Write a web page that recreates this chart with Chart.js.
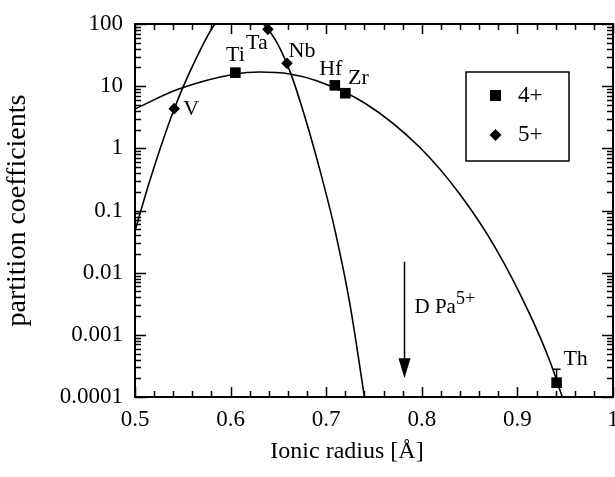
<!DOCTYPE html>
<html lang="en">
<head>
<meta charset="UTF-8">
<title>Partition coefficients vs ionic radius</title>
<script src="https://cdn.jsdelivr.net/npm/chart.js"></script>
<style>
  html, body { margin: 0; padding: 0; background: #fff; overflow: hidden; }
  #wrap { width: 615px; height: 477px; }
</style>
</head>
<body>
<div id="wrap"><canvas id="dChart" width="615" height="477"></canvas></div>
<script>
// lattice strain curves (radius in Å, D)
const curve4X = [0.500, 0.545, 0.605, 0.630, 0.662, 0.690, 0.741, 0.798, 0.840, 0.877, 0.913, 0.934, 0.947];
const curve4Y = [4.3, 8.9, 15.7, 16.9, 15.7, 12.2, 5.26, 1.03, 0.181, 0.0251, 0.00214, 0.000377, 0.0001];
const curve5X = [0.500, 0.5157, 0.541, 0.564, 0.5837, 0.609, 0.6342, 0.6464, 0.6621, 0.6778, 0.6935, 0.7092, 0.7249, 0.7400];
const curve5Y = [0.047, 0.31, 4.3, 28, 100, 200, 100, 57, 17.3, 3.17, 0.442, 0.048, 0.00307, 0.0001];

// measured ions
const ions4 = ['Ti', 'Hf', 'Zr', 'Th'];
const ions4X = [0.605, 0.709, 0.720, 0.941];
const ions4Y = [16.5, 10.3, 7.7, 0.00017];
const ions5 = ['V', 'Ta', 'Nb'];
const ions5X = [0.541, 0.639, 0.659];
const ions5Y = [4.35, 82, 23.3];

// Th upper error
const thErrHigh = 0.00028;

// Pa5+ arrow
const paX = 0.781;
const paFrom = 0.015;
const paTo = 0.0002;

const xTicks = [0.5, 0.6, 0.7, 0.8, 0.9, 1];
const yTicks = [0.0001, 0.001, 0.01, 0.1, 1, 10, 100];
const yTickLabels = ['0.0001', '0.001', '0.01', '0.1', '1', '10', '100'];
const legendLabels = ['4+', '5+'];
const xTitle = 'Ionic radius [Å]';

const FONT = '"Liberation Serif", "Times New Roman", serif';

const toXY = (xs, ys) => xs.map((x, i) => ({ x: x, y: ys[i] }));

// where each ion label sits relative to its marker (px)
const labelOffsets = { Ti: [0, -17], Ta: [-11, 14], Nb: [15, -12], Hf: [-4, -16], Zr: [13, -15], V: [17, 1], Th: [19, -23] };

const decorations = {
    id: 'decorations',
    afterDatasetsDraw(chart) {
        const { ctx, chartArea: a, scales: { x, y } } = chart;
        ctx.save();
        ctx.strokeStyle = '#000';
        ctx.fillStyle = '#000';

        // frame
        ctx.lineWidth = 2;
        ctx.strokeRect(a.left, a.top, a.right - a.left, a.bottom - a.top);

        // ticks pointing inward on all four sides
        ctx.lineWidth = 1.5;
        ctx.beginPath();
        for (let v = 0.5; v <= 1.0001; v += 0.02) {
            const px = Math.round(x.getPixelForValue(v)) + 0.5;
            const major = Math.abs(v * 10 - Math.round(v * 10)) < 1e-6;
            const len = major ? 10 : 6;
            ctx.moveTo(px, a.bottom); ctx.lineTo(px, a.bottom - len);
            ctx.moveTo(px, a.top); ctx.lineTo(px, a.top + len);
        }
        for (let e = -4; e <= 2; e++) {
            for (let m = 1; m <= 9; m++) {
                const v = m * Math.pow(10, e);
                if (v > 100.0001) break;
                const py = Math.round(y.getPixelForValue(v)) + 0.5;
                const len = m === 1 ? 11 : 6;
                ctx.moveTo(a.left, py); ctx.lineTo(a.left + len, py);
                ctx.moveTo(a.right, py); ctx.lineTo(a.right - len, py);
            }
        }
        ctx.stroke();

        // Th error bar
        const thX = x.getPixelForValue(ions4X[3]);
        const thTop = y.getPixelForValue(thErrHigh);
        const thMid = y.getPixelForValue(ions4Y[3]);
        ctx.lineWidth = 1.5;
        ctx.beginPath();
        ctx.moveTo(thX, thMid); ctx.lineTo(thX, thTop);
        ctx.moveTo(thX - 4, thTop); ctx.lineTo(thX + 4, thTop);
        ctx.stroke();

        // ion labels
        ctx.font = '22px ' + FONT;
        ctx.textAlign = 'center';
        ctx.textBaseline = 'middle';
        const names = ions4.concat(ions5);
        const xs = ions4X.concat(ions5X);
        const ys = ions4Y.concat(ions5Y);
        names.forEach((n, i) => {
            const off = labelOffsets[n];
            ctx.fillText(n, x.getPixelForValue(xs[i]) + off[0], y.getPixelForValue(ys[i]) + off[1]);
        });

        // Pa arrow
        const ax = Math.round(x.getPixelForValue(paX)) + 0.5;
        const aTop = y.getPixelForValue(paFrom);
        const aTip = y.getPixelForValue(paTo);
        ctx.lineWidth = 1.5;
        ctx.beginPath();
        ctx.moveTo(ax, aTop); ctx.lineTo(ax, aTip - 18);
        ctx.stroke();
        ctx.beginPath();
        ctx.moveTo(ax - 6, aTip - 20); ctx.lineTo(ax + 6, aTip - 20); ctx.lineTo(ax, aTip);
        ctx.closePath();
        ctx.fill();
        ctx.textAlign = 'left';
        ctx.font = '21px ' + FONT;
        const ly = aTop + 46;
        ctx.fillText('D Pa', ax + 10, ly);
        const w = ctx.measureText('D Pa').width;
        ctx.font = '18px ' + FONT;
        ctx.fillText('5+', ax + 10 + w, ly - 8);

        // legend box
        const lx = a.right - 147, lt = a.top + 48;
        ctx.lineWidth = 1.5;
        ctx.strokeRect(lx, lt, 103, 89);
        ctx.fillRect(lx + 24, lt + 18, 11, 11);
        ctx.beginPath();
        ctx.moveTo(lx + 29.5, lt + 57); ctx.lineTo(lx + 35.5, lt + 63);
        ctx.lineTo(lx + 29.5, lt + 69); ctx.lineTo(lx + 23.5, lt + 63);
        ctx.closePath();
        ctx.fill();
        ctx.font = '23px ' + FONT;
        ctx.textAlign = 'left';
        ctx.fillText(legendLabels[0], lx + 52, lt + 24);
        ctx.fillText(legendLabels[1], lx + 52, lt + 63);

        // x axis title, sits a little left of the plot centre in the original
        ctx.font = '24px ' + FONT;
        ctx.textAlign = 'center';
        ctx.fillText(xTitle, a.left + 212, a.bottom + 55);
        ctx.restore();
    }
};

const ctx = document.getElementById('dChart').getContext('2d');
const dChart = new Chart(ctx, {
    type: 'scatter',
    data: {
        datasets: [
            {
                label: 'curve 4+',
                data: toXY(curve4X, curve4Y),
                showLine: true,
                borderColor: '#000',
                borderWidth: 1.6,
                pointRadius: 0,
                cubicInterpolationMode: 'monotone'
            },
            {
                label: 'curve 5+',
                data: toXY(curve5X, curve5Y),
                showLine: true,
                borderColor: '#000',
                borderWidth: 1.6,
                pointRadius: 0,
                cubicInterpolationMode: 'monotone'
            },
            {
                label: legendLabels[0],
                data: toXY(ions4X, ions4Y),
                pointStyle: 'rect',
                pointRadius: 7.5,
                backgroundColor: '#000',
                borderColor: '#000',
                borderWidth: 0
            },
            {
                label: legendLabels[1],
                data: toXY(ions5X, ions5Y),
                pointStyle: 'rectRot',
                pointRadius: 5.8,
                backgroundColor: '#000',
                borderColor: '#000',
                borderWidth: 0
            }
        ]
    },
    options: {
        responsive: false,
        animation: false,
        layout: { autoPadding: false, padding: { top: 24, right: 2, left: 0, bottom: 0 } },
        plugins: {
            legend: { display: false },
            tooltip: { enabled: false }
        },
        scales: {
            x: {
                type: 'linear',
                min: 0.5,
                max: 1,
                grid: { display: false, drawTicks: false },
                border: { display: false },
                afterBuildTicks: s => { s.ticks = xTicks.map(v => ({ value: v })); },
                afterFit: s => { s.height = 80; s.paddingLeft = 0; s.paddingRight = 0; },
                ticks: {
                    color: '#000',
                    padding: 9,
                    font: { family: FONT, size: 23 },
                    callback: v => String(Math.round(v * 10) / 10)
                },
                title: { display: false, text: xTitle }
            },
            y: {
                type: 'logarithmic',
                min: 0.0001,
                max: 100,
                grid: { display: false, drawTicks: false },
                border: { display: false },
                afterBuildTicks: s => { s.ticks = yTicks.map(v => ({ value: v })); },
                afterFit: s => { s.width = 135; s.paddingTop = 0; s.paddingBottom = 0; },
                ticks: {
                    color: '#000',
                    padding: 12,
                    font: { family: FONT, size: 23 },
                    callback: v => yTickLabels[yTicks.indexOf(v)]
                },
                title: {
                    display: true,
                    text: 'partition coefficients',
                    color: '#000',
                    font: { family: FONT, size: 28 },
                    padding: { top: 1, bottom: 0 }
                }
            }
        }
    },
    plugins: [decorations]
});
</script>
</body>
</html>
